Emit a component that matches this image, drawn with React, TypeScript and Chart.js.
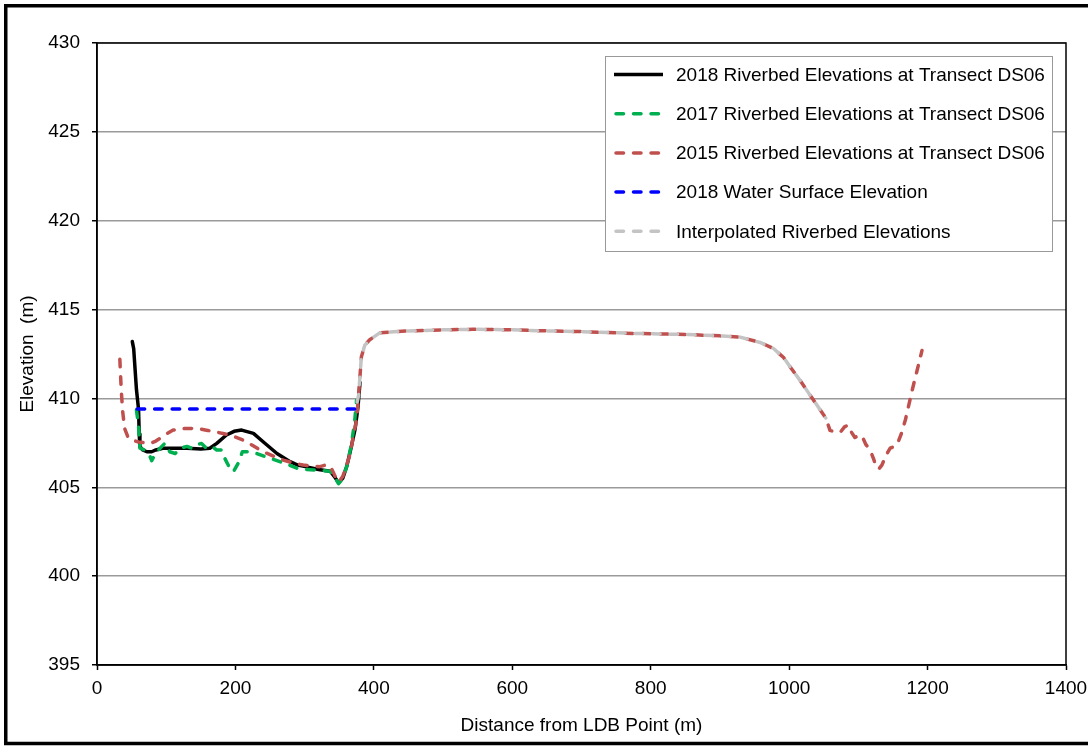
import React, { useEffect, useRef } from "react";
import { Chart, registerables } from "chart.js";

Chart.register(...registerables);

// ---- Data ----
const xTicks = [0, 200, 400, 600, 800, 1000, 1200, 1400];
const yTicks = [395, 400, 405, 410, 415, 420, 425, 430];

const bed2018X = [51, 53, 57, 60, 61, 62, 66, 72, 79, 85, 95, 110, 130, 150, 163, 173, 187, 198, 209, 226, 240, 260, 279, 290, 303, 320, 337, 343, 349, 355, 361, 367, 373, 377, 380];
const bed2018Y = [413.2, 412.8, 410.5, 409.4, 408.0, 407.3, 407.1, 407.0, 407.0, 407.1, 407.2, 407.2, 407.2, 407.15, 407.2, 407.47, 407.94, 408.15, 408.22, 408.03, 407.56, 406.9, 406.44, 406.25, 406.15, 406.0, 405.9, 405.6, 405.25, 405.5, 406.2, 407.2, 408.3, 409.5, 410.9];

const bed2017X = [57, 60, 62, 69, 75, 79, 86, 98, 105, 113, 120, 130, 137, 144, 151, 158, 166, 173, 180, 185, 192, 197, 204, 210, 220, 231, 245, 260, 275, 289, 303, 317, 337, 343, 349, 355, 361, 367, 372, 375];
const bed2017Y = [409.35, 408.5, 407.2, 407.1, 406.9, 406.5, 407.0, 407.47, 407.0, 406.9, 407.2, 407.3, 407.2, 407.4, 407.47, 407.2, 407.3, 407.1, 407.1, 406.6, 406.07, 405.87, 406.35, 407.0, 407.0, 406.9, 406.7, 406.5, 406.3, 406.07, 406.0, 405.97, 405.9, 405.6, 405.2, 405.5, 406.2, 407.3, 408.6, 409.9];

const bed2015X = [33, 35, 37, 40, 45, 50, 60, 77, 85, 91, 100, 110, 125, 144, 160, 182, 195, 211, 225, 240, 255, 269, 285, 298, 310, 322, 330, 337, 343, 349, 355, 361, 366, 370, 375, 378, 382, 387, 394, 409, 450, 500, 543, 600, 640, 700, 774, 850, 900, 929, 958, 977, 992, 1001, 1016, 1030, 1045, 1053, 1059, 1068, 1074, 1080, 1085, 1090, 1095, 1100, 1105, 1111, 1117, 1122, 1126, 1130, 1134, 1140, 1146, 1152, 1156, 1162, 1168, 1178, 1185, 1192];
const bed2015Y = [412.2, 410.5, 409.3, 408.3, 407.8, 407.66, 407.55, 407.47, 407.6, 407.75, 408.0, 408.22, 408.3, 408.32, 408.2, 408.03, 407.9, 407.66, 407.35, 407.0, 406.75, 406.53, 406.35, 406.25, 406.2, 406.16, 406.25, 406.2, 405.7, 405.3, 405.6, 406.3, 406.9, 407.8, 408.8, 410.2, 412.35, 413.0, 413.3, 413.7, 413.8, 413.86, 413.89, 413.86, 413.81, 413.76, 413.66, 413.6, 413.52, 413.45, 413.15, 412.82, 412.3, 411.8, 411.0, 410.2, 409.35, 408.9, 408.2, 408.1, 408.1, 408.4, 408.5, 408.1, 407.8, 407.9, 407.9, 407.4, 407.1, 406.6, 406.1, 406.05, 406.25, 406.8, 407.2, 407.3, 407.4, 408.0, 408.8, 410.5, 411.6, 412.7];

const waterX = [58, 376];
const waterY = [409.4, 409.4];

const interpX = [376, 378, 382, 387, 394, 409, 450, 500, 543, 600, 640, 700, 774, 850, 900, 929, 958, 977, 992, 1001, 1016, 1030, 1045, 1053];
const interpY = [409.8, 410.2, 412.35, 413.0, 413.3, 413.7, 413.8, 413.86, 413.89, 413.86, 413.81, 413.76, 413.66, 413.6, 413.52, 413.45, 413.15, 412.82, 412.3, 411.8, 411.0, 410.2, 409.35, 408.9];

const seriesLabels = [
  "2018 Riverbed Elevations at Transect DS06",
  "2017 Riverbed Elevations at Transect DS06",
  "2015 Riverbed Elevations at Transect DS06",
  "2018 Water Surface Elevation",
  "Interpolated Riverbed Elevations",
];
const seriesColors = ["#000000", "#00B050", "#C0504D", "#0000FF", "#C4C4C4"];
const seriesDashed = [false, true, true, true, true];

const FONT = "'Liberation Sans', Arial, sans-serif";
const FS = 19;
const DASH = [7.5, 10];
const LW = 3.5;

const pts = (xs: number[], ys: number[]) => xs.map((x, i) => ({ x, y: ys[i] }));

const legendPlugin = {
  id: "boxLegend",
  afterDraw(chart: any) {
    const ctx = chart.ctx as CanvasRenderingContext2D;
    ctx.save();
    const bx = 605.5, by = 56.5, bw = 447, bh = 195;
    ctx.fillStyle = "#ffffff";
    ctx.fillRect(bx, by, bw, bh);
    ctx.strokeStyle = "#999999";
    ctx.lineWidth = 1;
    ctx.strokeRect(bx, by, bw, bh);
    ctx.font = `${FS}px ${FONT}`;
    ctx.textBaseline = "middle";
    ctx.textAlign = "left";
    for (let i = 0; i < seriesLabels.length; i++) {
      const y = 74.5 + i * 39.2;
      ctx.beginPath();
      ctx.lineWidth = LW;
      ctx.strokeStyle = seriesColors[i];
      ctx.lineCap = seriesDashed[i] ? "round" : "butt";
      ctx.setLineDash(seriesDashed[i] ? DASH : []);
      ctx.moveTo(seriesDashed[i] ? 616 : 614, y);
      ctx.lineTo(663, y);
      ctx.stroke();
      ctx.setLineDash([]);
      ctx.fillStyle = "#000000";
      ctx.fillText(seriesLabels[i], 676, y + 1);
    }
    const a = chart.chartArea;
    ctx.strokeStyle = "#000000";
    ctx.lineWidth = 1.5;
    ctx.strokeRect(a.left, a.top, a.right - a.left, a.bottom - a.top);
    // outer frame (left, top, bottom edges; the right edge lies outside the picture)
    ctx.lineWidth = 3.5;
    ctx.lineCap = "butt";
    ctx.beginPath();
    ctx.moveTo(1090, 5.75);
    ctx.lineTo(5.75, 5.75);
    ctx.lineTo(5.75, 743.5);
    ctx.lineTo(1090, 743.5);
    ctx.stroke();
    ctx.restore();
  },
};

export default function App() {
  const ref = useRef<HTMLCanvasElement | null>(null);
  useEffect(() => {
    if (!ref.current) return;
    const mk = (i: number, xs: number[], ys: number[], order: number) => ({
      label: seriesLabels[i],
      data: pts(xs, ys),
      showLine: true,
      borderColor: seriesColors[i],
      backgroundColor: seriesColors[i],
      borderWidth: LW,
      borderDash: seriesDashed[i] ? DASH : [],
      borderCapStyle: "round",
      borderJoinStyle: "round",
      pointRadius: 0,
      pointHoverRadius: 0,
      tension: 0,
      fill: false,
      order,
    });
    const chart = new Chart(ref.current, {
      type: "scatter",
      data: {
        datasets: [
          mk(0, bed2018X, bed2018Y, 5),
          mk(1, bed2017X, bed2017Y, 4),
          mk(2, bed2015X, bed2015Y, 3),
          mk(3, waterX, waterY, 2),
          mk(4, interpX, interpY, 1),
        ] as any,
      },
      options: {
        responsive: false,
        animation: false,
        devicePixelRatio: 1,
        layout: { padding: { left: 0, top: 43, right: 22, bottom: 0 } },
        plugins: { legend: { display: false }, tooltip: { enabled: false } },
        scales: {
          x: {
            type: "linear",
            min: 0,
            max: 1400,
            afterBuildTicks: (s: any) => {
              s.ticks = xTicks.map((v) => ({ value: v }));
            },
            afterFit: (s: any) => {
              s.height = 81;
              s.paddingLeft = 0;
              s.paddingRight = 0;
            },
            ticks: {
              color: "#000",
              font: { family: FONT, size: FS },
              padding: 7,
              maxRotation: 0,
              callback: (v: any) => String(v),
            },
            grid: { drawOnChartArea: false, drawTicks: true, tickLength: 5, tickColor: "#000", tickWidth: 1.5 },
            border: { display: true, color: "#000", width: 1.5 },
            title: {
              display: true,
              text: "Distance from LDB Point (m)",
              color: "#000",
              font: { family: FONT, size: FS },
              padding: { top: 0, bottom: 9 },
            },
          },
          y: {
            type: "linear",
            min: 395,
            max: 430,
            afterBuildTicks: (s: any) => {
              s.ticks = yTicks.map((v) => ({ value: v }));
            },
            afterFit: (s: any) => {
              s.width = 97;
              s.paddingTop = 0;
              s.paddingBottom = 0;
            },
            ticks: {
              color: "#000",
              font: { family: FONT, size: FS },
              padding: 12,
              callback: (v: any) => String(v),
            },
            grid: { color: "#9a9a9a", lineWidth: 1.5, drawTicks: true, tickLength: 5, tickColor: "#000", tickWidth: 1.5 },
            border: { display: true, color: "#000", width: 1.5 },
            title: {
              display: true,
              text: "Elevation  (m)",
              color: "#000",
              font: { family: FONT, size: FS },
              padding: { top: 16, bottom: 0 },
            },
          },
        },
      },
      plugins: [legendPlugin],
    } as any);
    return () => chart.destroy();
  }, []);
  return (
    <div style={{ position: "absolute", left: 0, top: 0, width: 1088, height: 746, background: "#fff" }}>
      <canvas ref={ref} width={1088} height={746} style={{ display: "block" }} />
    </div>
  );
}
